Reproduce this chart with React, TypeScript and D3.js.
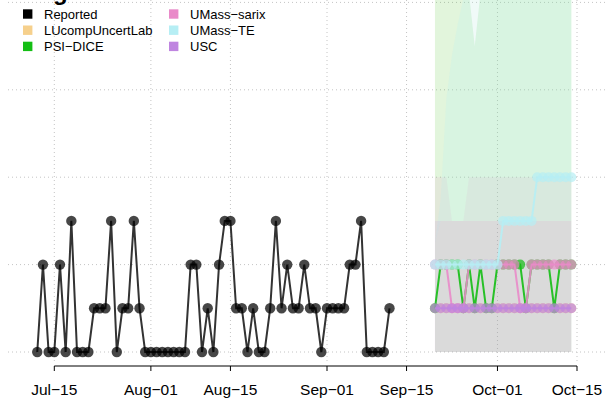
import React from 'react';
import * as d3 from 'd3';

const W = 605;
const H = 402;

// ---------- data ----------
const reportedStart = '2023-07-12';
const reportedValues = [
  0, 2, 0, 0, 2, 0, 3, 0, 0, 0, 1, 1, 1, 3, 0, 1, 1, 3, 1, 0,
  0, 0, 0, 0, 0, 0, 0, 2, 2, 0, 1, 0, 2, 3, 3, 1, 1, 0, 1, 0,
  0, 1, 3, 1, 2, 1, 1, 2, 1, 1, 0, 1, 1, 1, 1, 2, 2, 3, 0, 0,
  0, 0, 1,
];

const forecastStart = '2023-09-20';
const zeroBand = [0, 0, 0, 0, 0, 0, 0, 0, 0, 0, 0, 0, 0, 0, 0, 0, 0, 0, 0, 0, 0, 0, 0, 0, 0];

const lucompMedian = [1, 1, 1, 1, 1, 1, 1, 1, 1, 1, 1, 1, 1, 1, 1, 1, 1, 1, 1, 1, 1, 1, 1, 1, 1];
const lucompUpper = [12, 12, 12, 12, 12, 12, 12, 12, 12, 12, 12, 12, 12, 12, 12, 12, 12, 12, 12, 12, 12, 12, 12, 12, 12];

const psiMedian = [1, 2, 2, 2, 2, 1, 2, 1, 2, 1, 1, 2, 2, 2, 2, 2, 1, 2, 2, 2, 2, 1, 2, 2, 2];
const psiUpper = [12, 12, 12, 12, 12, 12, 8.2, 7, 8.2, 12, 12, 12, 12, 12, 12, 12, 12, 12, 12, 12, 12, 12, 12, 12, 12];

const sarixMedian = [2, 2, 2, 1, 1, 1, 2, 2, 2, 2, 2, 2, 2, 2, 2, 1, 1, 2, 2, 2, 2, 2, 2, 2, 2];
const sarixUpper = [4, 4, 4, 3, 3, 3, 4, 4, 4, 4, 4, 4, 4, 4, 4, 4, 4, 4, 4, 4, 4, 4, 4, 4, 4];

const teMedian = [2, 2, 2, 2, 2, 2, 2, 2, 2, 2, 2, 2, 3, 3, 3, 3, 3, 3, 4, 4, 4, 4, 4, 4, 4];
const teInnerUpper = [2.5, 3, 3, 3, 3, 3, 3, 3, 3, 3, 3, 3, 3, 3, 3, 3, 3, 3, 3, 3, 3, 3, 3, 3, 3];
const teUpper = [2.5, 3.5, 5.8, 6.8, 7.5, 8.1, 12, 12, 12, 12, 12, 12, 12, 12, 12, 12, 12, 12, 12, 12, 12, 12, 12, 12, 12];

const uscMedian = [1, 1, 1, 1, 1, 1, 1, 1, 1, 1, 1, 1, 1, 1, 1, 1, 1, 1, 1, 1, 1, 1, 1, 1, 1];
const uscUpper = [3, 3, 3, 3, 3, 3, 3, 3, 3, 3, 3, 3, 3, 3, 3, 3, 3, 3, 3, 3, 3, 3, 3, 3, 3];

const tickDates = ['2023-07-15', '2023-08-01', '2023-08-15', '2023-09-01', '2023-09-15', '2023-10-01', '2023-10-15'];
const tickLabels = ['Jul\u221215', 'Aug\u221201', 'Aug\u221215', 'Sep\u221201', 'Sep\u221215', 'Oct\u221201', 'Oct\u221215'];
const yGrid = [0, 2, 4, 6, 8];

const legendNames = ['Reported', 'LUcompUncertLab', 'PSI\u2212DICE', 'UMass\u2212sarix', 'UMass\u2212TE', 'USC'];
const legendColors = ['#000000', '#F6D08C', '#14BE14', '#E98AC9', '#B6EEF4', '#BF85E0'];

// ---------- helpers ----------
const parse = (s: string) => new Date(s + 'T00:00:00Z');
const dayRange = (start: string, n: number) => {
  const s = parse(start);
  return d3.utcDay.range(s, d3.utcDay.offset(s, n));
};

const reportedDates = dayRange(reportedStart, reportedValues.length);
const forecastDates = dayRange(forecastStart, lucompMedian.length);

type Band = { lower: number[]; upper: number[]; opacity: number };
type Model = { color: string; median: number[]; bands: Band[] };

const models: Model[] = [
  { color: legendColors[1], median: lucompMedian, bands: [{ lower: zeroBand, upper: lucompUpper, opacity: 0.05 }] },
  { color: legendColors[2], median: psiMedian, bands: [{ lower: zeroBand, upper: psiUpper, opacity: 0.12 }] },
  { color: legendColors[3], median: sarixMedian, bands: [{ lower: zeroBand, upper: sarixUpper, opacity: 0.12 }] },
  { color: legendColors[4], median: teMedian, bands: [
    { lower: teInnerUpper, upper: teUpper, opacity: 0.2 },
    { lower: zeroBand, upper: teInnerUpper, opacity: 0.05 },
  ] },
  { color: legendColors[5], median: uscMedian, bands: [{ lower: zeroBand, upper: uscUpper, opacity: 0.14 }] },
];

export default function App() {
  const x = d3.scaleUtc().domain([parse('2023-07-15'), parse('2023-10-15')]).range([54.3, 577]);
  const y = d3.scaleLinear().domain([0, 8]).range([352, 2.4]);

  const plotL = 8, plotR = 605, plotT = 0, plotB = 362;

  const line = d3.line<[Date, number]>().x((d) => x(d[0])).y((d) => y(d[1]));
  const font = 'Liberation Sans, Arial, Helvetica, sans-serif';

  return (
    <div style={{ position: 'fixed', left: 0, top: 0, width: W, height: H, background: '#fff' }}>
      <svg width={W} height={H} style={{ display: 'block' }} fontFamily={font}>
        <defs>
          <clipPath id="plotclip">
            <rect x={plotL} y={plotT} width={plotR - plotL} height={plotB - plotT} />
          </clipPath>
        </defs>

        {/* grid */}
        <g stroke="#c4c4c4" strokeWidth={1} strokeDasharray="1,3">
          {yGrid.map((v) => (
            <line key={'h' + v} x1={plotL} x2={plotR} y1={y(v)} y2={y(v)} />
          ))}
          {tickDates.map((t) => (
            <line key={'v' + t} x1={x(parse(t))} x2={x(parse(t))} y1={plotT} y2={plotB} />
          ))}
        </g>

        <g clipPath="url(#plotclip)">
          {/* ribbons */}
          {models.map((m, mi) =>
            m.bands.map((b, bi) => {
              const area = d3
                .area<number>()
                .x((_, i) => x(forecastDates[i]))
                .y0((_, i) => y(b.lower[i]))
                .y1((_, i) => y(b.upper[i]));
              return <path key={`r${mi}-${bi}`} d={area(b.upper) || ''} fill={m.color} fillOpacity={b.opacity} stroke="none" />;
            })
          )}

          {/* forecast medians */}
          {models.map((m, mi) => {
            const pts: [Date, number][] = m.median.map((v, i) => [forecastDates[i], v]);
            return (
              <g key={'m' + mi}>
                <path d={line(pts) || ''} fill="none" stroke={m.color} strokeWidth={2} strokeOpacity={0.9} />
                {pts.map((p, i) => (
                  <circle key={i} cx={x(p[0])} cy={y(p[1])} r={5} fill={m.color} fillOpacity={0.7} />
                ))}
              </g>
            );
          })}

          {/* reported */}
          {(() => {
            const pts: [Date, number][] = reportedValues.map((v, i) => [reportedDates[i], v]);
            return (
              <g>
                <path d={line(pts) || ''} fill="none" stroke="#333333" strokeWidth={2} />
                {pts.map((p, i) => (
                  <circle key={i} cx={x(p[0])} cy={y(p[1])} r={5.2} fill="#000" fillOpacity={0.72} />
                ))}
              </g>
            );
          })()}
        </g>

        {/* x axis */}
        <g stroke="#000" strokeWidth={1}>
          <line x1={x(parse(tickDates[0]))} x2={x(parse(tickDates[tickDates.length - 1]))} y1={366} y2={366} />
          {tickDates.map((t) => (
            <line key={t} x1={x(parse(t))} x2={x(parse(t))} y1={366} y2={371} />
          ))}
        </g>
        {tickDates.map((t, i) => (
          <text key={'l' + t} x={x(parse(t))} y={395} textAnchor="middle" fontSize={15.5} fill="#000">
            {tickLabels[i]}
          </text>
        ))}

        {/* title (mostly cut off above, as in the reference) */}
        <text x={53} y={0} fontSize={24} fontWeight="bold" fill="#000">g</text>

        {/* legend */}
        {legendNames.map((name, i) => {
          const col = Math.floor(i / 3);
          const row = i % 3;
          const sx = col === 0 ? 23 : 169;
          const cy = 14 + row * 16.2;
          return (
            <g key={name}>
              <rect x={sx} y={cy - 4.7} width={9.4} height={9.4} fill={legendColors[i]} />
              <text x={sx + 21} y={cy + 4.8} fontSize={13} fill="#000">{name}</text>
            </g>
          );
        })}
      </svg>
    </div>
  );
}
